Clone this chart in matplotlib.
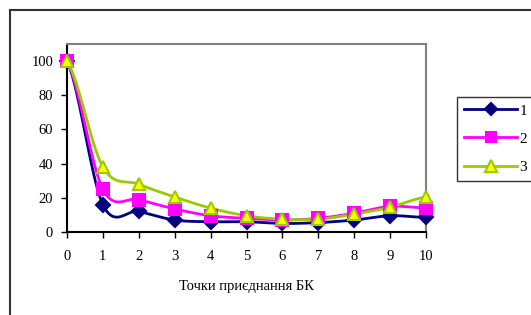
import numpy as np
import matplotlib
matplotlib.use("Agg")
import matplotlib.pyplot as plt
from matplotlib.lines import Line2D

x = [0, 1, 2, 3, 4, 5, 6, 7, 8, 9, 10]
s1 = [100, 16, 12, 7, 6, 6, 5, 5.5, 7, 9.5, 8.5]
s2 = [100, 25, 19, 13.5, 9.5, 8, 7, 8, 11, 15, 14]
s3 = [100, 38, 28, 20.5, 14, 9.5, 7.5, 7.5, 10.5, 14.5, 20.5]
labels = ["1", "2", "3"]
xlabel = "Точки приєднання БК"

plt.rcParams['font.family'] = ['Liberation Serif', 'DejaVu Serif']


def smooth(xs, ys, n=20):
    xs = np.asarray(xs, float)
    ys = np.asarray(ys, float)
    px = np.concatenate([[2 * xs[0] - xs[1]], xs, [2 * xs[-1] - xs[-2]]])
    py = np.concatenate([[ys[0]], ys, [ys[-1]]])
    ox, oy = [], []
    for i in range(1, len(px) - 2):
        p0, p1, p2, p3 = (np.array([px[j], py[j]]) for j in (i - 1, i, i + 1, i + 2))
        c1 = p1 + (p2 - p0) / 6.0
        c2 = p2 - (p3 - p1) / 6.0
        t = np.linspace(0, 1, n, endpoint=(i == len(px) - 3))[:, None]
        b = ((1 - t) ** 3) * p1 + 3 * ((1 - t) ** 2) * t * c1 + 3 * (1 - t) * t ** 2 * c2 + t ** 3 * p2
        ox.extend(b[:, 0]); oy.extend(b[:, 1])
    return np.array(ox), np.array(oy)


fig = plt.figure(figsize=(5.31, 3.15), dpi=100)
W, H = 531, 315
ax = fig.add_axes([67 / W, 1 - 232 / H, (426 - 67) / W, (232 - 44) / H])

styles = [
    dict(color="#000080", marker="D", mfc="#000080", mec="#000080", ms=7),
    dict(color="#FF00FF", marker="s", mfc="#FF00FF", mec="#FF00FF", ms=8),
    dict(color="#99CC00", marker="^", mfc="#FFFF00", mec="#99CC00", ms=9),
]
handles = []
for ys, st, lab in zip([s1, s2, s3], styles, labels):
    sx, sy = smooth(x, ys)
    ax.plot(sx, sy, color=st["color"], lw=2, clip_on=False, zorder=2)
    ax.plot(x, ys, ls="none", marker=st["marker"], mfc=st["mfc"], mec=st["mec"],
            ms=st["ms"], mew=1.5, clip_on=False, zorder=3)
    handles.append(Line2D([], [], color=st["color"], lw=2, marker=st["marker"],
                          mfc=st["mfc"], mec=st["mec"], ms=st["ms"] - 1, mew=1.5, label=lab))

ax.set_xlim(0, 10)
ax.set_ylim(0, 110)
ax.set_xticks(x)
ax.set_yticks([0, 20, 40, 60, 80, 100])
ax.tick_params(direction="out", length=4, width=1, labelsize=10.5, colors="black")
ax.tick_params(axis="x", pad=9)
ax.tick_params(axis="y", pad=6)
ax.spines["left"].set_color("black")
ax.spines["bottom"].set_color("black")
ax.spines["top"].set_color("#808080")
ax.spines["right"].set_color("#808080")
for s in ax.spines.values():
    s.set_linewidth(1.5)
ax.set_xlabel(xlabel, fontsize=10.5, labelpad=12)

leg = fig.legend(handles=handles, loc="upper left", bbox_to_anchor=(457 / W, 1 - 97 / H),
                 frameon=True, fancybox=False, edgecolor="black", fontsize=11,
                 handlelength=3.5, borderpad=0.45, labelspacing=0.95, handletextpad=0.15,
                 borderaxespad=0)
leg.get_frame().set_linewidth(1)

# outer frame
fig.add_artist(Line2D([10 / W, 10 / W], [0, 1 - 10 / H], transform=fig.transFigure,
                      color="#333333", lw=1.5))
fig.add_artist(Line2D([10 / W, 1], [1 - 10 / H, 1 - 10 / H], transform=fig.transFigure,
                      color="#333333", lw=1.5))

fig.savefig("out.png", dpi=100)
